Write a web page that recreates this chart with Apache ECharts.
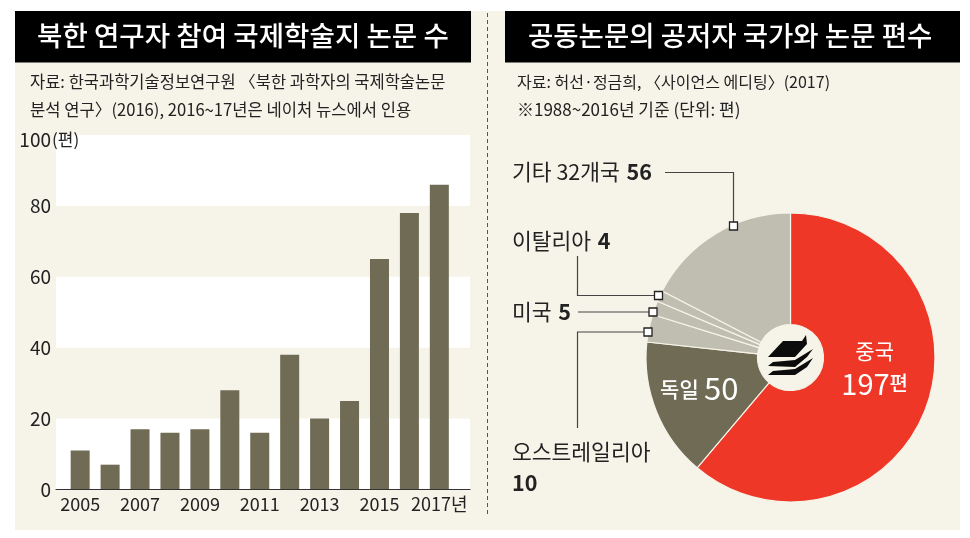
<!DOCTYPE html>
<html><head><meta charset="utf-8">
<style>html,body{margin:0;padding:0;background:#fff}#c{width:970px;height:538px}</style>
<script src="https://cdn.jsdelivr.net/npm/echarts@6/dist/echarts.min.js"></script>
</head><body><div id="c"></div>
<script>
const years = ['2005','2006','2007','2008','2009','2010','2011','2012','2013','2014','2015','2016','2017'];
const papers = [11,7,17,16,17,28,16,38,20,25,65,78,86];
const yMax = 100, yStep = 20;
const pieNames = ['중국','독일','오스트레일리아','미국','이탈리아','기타 32개국'];
const pieValues = [197,50,10,5,4,56];
const pieColors = ['#EE3727','#6F6B55','#C0BEB0','#C0BEB0','#C0BEB0','#C0BEB0'];
const titleLeft = '북한 연구자 참여 국제학술지 논문 수';
const titleRight = '공동논문의 공저자 국가와 논문 편수';
const noteLeft = ['자료: 한국과학기술정보연구원 〈북한 과학자의 국제학술논문','분석 연구〉(2016), 2016~17년은 네이처 뉴스에서 인용'];
const noteRight = ['자료: 허선·정금희, 〈사이언스 에디팅〉(2017)','※1988~2016년 기준 (단위: 편)'];

const KR = '"Noto Sans CJK KR"';
const CREAM = '#F6F3E8', INK = '#222', LINE = '#444';

function text(x,y,t,size,opt){
  return {type:'text',z:20,silent:true,x:x,y:y,style:Object.assign({text:t,font:(opt&&opt.weight||400)+' '+size+'px '+KR,fill:INK,verticalAlign:'middle'},opt&&opt.style)};
}
function rich(x,y,name,val){
  return {type:'text',z:20,silent:true,x:x,y:y,style:{
    rich:{n:{font:'400 21.5px '+KR,fill:INK},v:{font:'700 21.5px '+KR,fill:INK}},
    text:'{n|'+name+'}  {v|'+val+'}',verticalAlign:'middle',fill:INK}};
}
function poly(points){
  return {type:'polyline',z:19,silent:true,shape:{points:points},style:{stroke:LINE,lineWidth:1.2,fill:null}};
}
function square(x,y){
  return {type:'rect',z:21,silent:true,shape:{x:x-4,y:y-4,width:8,height:8},style:{fill:'#fff',stroke:'#222',lineWidth:1.3}};
}
function blob(points){
  return {type:'polygon',z:22,silent:true,shape:{points:points},style:{fill:'#0c0c0c'}};
}

const graphics = [
  {type:'rect',z:-5,silent:true,shape:{x:15,y:11,width:945,height:519},style:{fill:CREAM}},
  {type:'rect',z:10,silent:true,shape:{x:15,y:11,width:456,height:51.5},style:{fill:'#000'}},
  {type:'rect',z:10,silent:true,shape:{x:505,y:11,width:455,height:51.5},style:{fill:'#000'}},
  {type:'line',z:10,silent:true,shape:{x1:487.5,y1:13,x2:487.5,y2:515},style:{stroke:'#555',lineWidth:1,lineDash:[4,3]}},
  text(37,36,titleLeft,27.6,{weight:500,style:{fill:'#fff'}}),
  text(528,36,titleRight,27.5,{weight:500,style:{fill:'#fff'}}),
  text(30,82,noteLeft[0],16.5),
  text(30,110,noteLeft[1],16.6),
  text(517,82,noteRight[0],16),
  text(517,110,noteRight[1],17),
  text(52,140,'(편)',17),
  rich(512,172,'기타 32개국',pieValues[5]),
  rich(512,241,'이탈리아',pieValues[4]),
  rich(512,312,'미국',pieValues[3]),
  text(512,452,pieNames[2],21.5),
  text(512,483,String(pieValues[2]),21.5,{weight:700}),
  poly([[665,172.5],[733.5,172.5],[733.5,226]]),
  poly([[577.5,256],[577.5,295.5],[658,295.5]]),
  poly([[578,312],[653,312]]),
  poly([[577.5,428],[577.5,332],[648,332]]),
  square(733.5,226),square(658.5,295.5),square(653,312),square(648,332),
  blob([[768,357],[783,341],[802,341],[806,335],[807,344],[795,357]]),
  blob([[768,366],[773,362],[795,360],[813,349],[807,357],[795,367]]),
  blob([[768,375],[773,371],[795,369],[813,358],[807,367],[795,375]])
];

const option = {
  animation:false,
  textStyle:{fontFamily:KR},
  graphic:{elements:graphics},
  grid:[
    {left:56,right:500,top:135,bottom:48.5},
    {left:65.2,width:389.1,top:135,bottom:48.5}
  ],
  xAxis:[
    {gridIndex:0,type:'category',data:years,axisTick:{show:false},axisLabel:{show:false},
     axisLine:{lineStyle:{color:'#333',width:1.2}},z:5},
    {gridIndex:1,type:'category',data:years,axisTick:{show:false},axisLine:{show:false},
     axisLabel:{interval:1,margin:6,color:INK,fontFamily:KR,fontSize:18,hideOverlap:false,
       formatter:v=>v==='2017'?v+'년':v}}
  ],
  yAxis:[
    {gridIndex:0,type:'value',min:0,max:yMax,interval:yStep,
     axisLine:{show:false},axisTick:{show:false},splitLine:{show:false},
     splitArea:{show:true,areaStyle:{color:['#ffffff','rgba(0,0,0,0)']}},
     axisLabel:{margin:5,color:INK,fontFamily:KR,fontSize:19,
       formatter:v=>v===yMax?'{m|'+v+'}':String(v),
       rich:{m:{color:INK,fontFamily:KR,fontSize:19,padding:[10,0,0,0]}}}},
    {gridIndex:1,type:'value',min:0,max:yMax,interval:yStep,show:false}
  ],
  series:[
    {type:'bar',xAxisIndex:1,yAxisIndex:1,data:papers,barWidth:19,itemStyle:{color:'#6F6B55'},silent:true,z:3},
    {type:'pie',center:[790.5,357.5],radius:[33,144.5],startAngle:90,clockwise:true,silent:true,
     minAngle:0,avoidLabelOverlap:false,
     itemStyle:{borderColor:CREAM,borderWidth:1.2},
     labelLine:{show:false},
     label:{show:false},
     data:pieNames.map((n,i)=>{
       const d={name:n,value:pieValues[i],itemStyle:{color:pieColors[i]}};
       if(i===0) d.label={show:true,position:'inside',offset:[-2,-22],
         formatter:'{a|'+n+'}\n{b|'+pieValues[i]+'}{c|편}',
         rich:{a:{color:'#fff',fontFamily:KR,fontSize:21,lineHeight:33},
               b:{color:'#fff',fontFamily:KR,fontSize:29,lineHeight:33},
               c:{color:'#fff',fontFamily:KR,fontSize:20,fontWeight:500,lineHeight:33}}};
       if(i===1) d.label={show:true,position:'inside',offset:[-6,-3],
         formatter:'{a|'+n+'}  {b|'+pieValues[i]+'}',
         rich:{a:{color:'#fff',fontFamily:KR,fontSize:21,fontWeight:500},
               b:{color:'#fff',fontFamily:KR,fontSize:31}}};
       return d;
     })}
  ]
};
echarts.init(document.getElementById('c'),null,{renderer:'canvas'}).setOption(option);
</script></body></html>
